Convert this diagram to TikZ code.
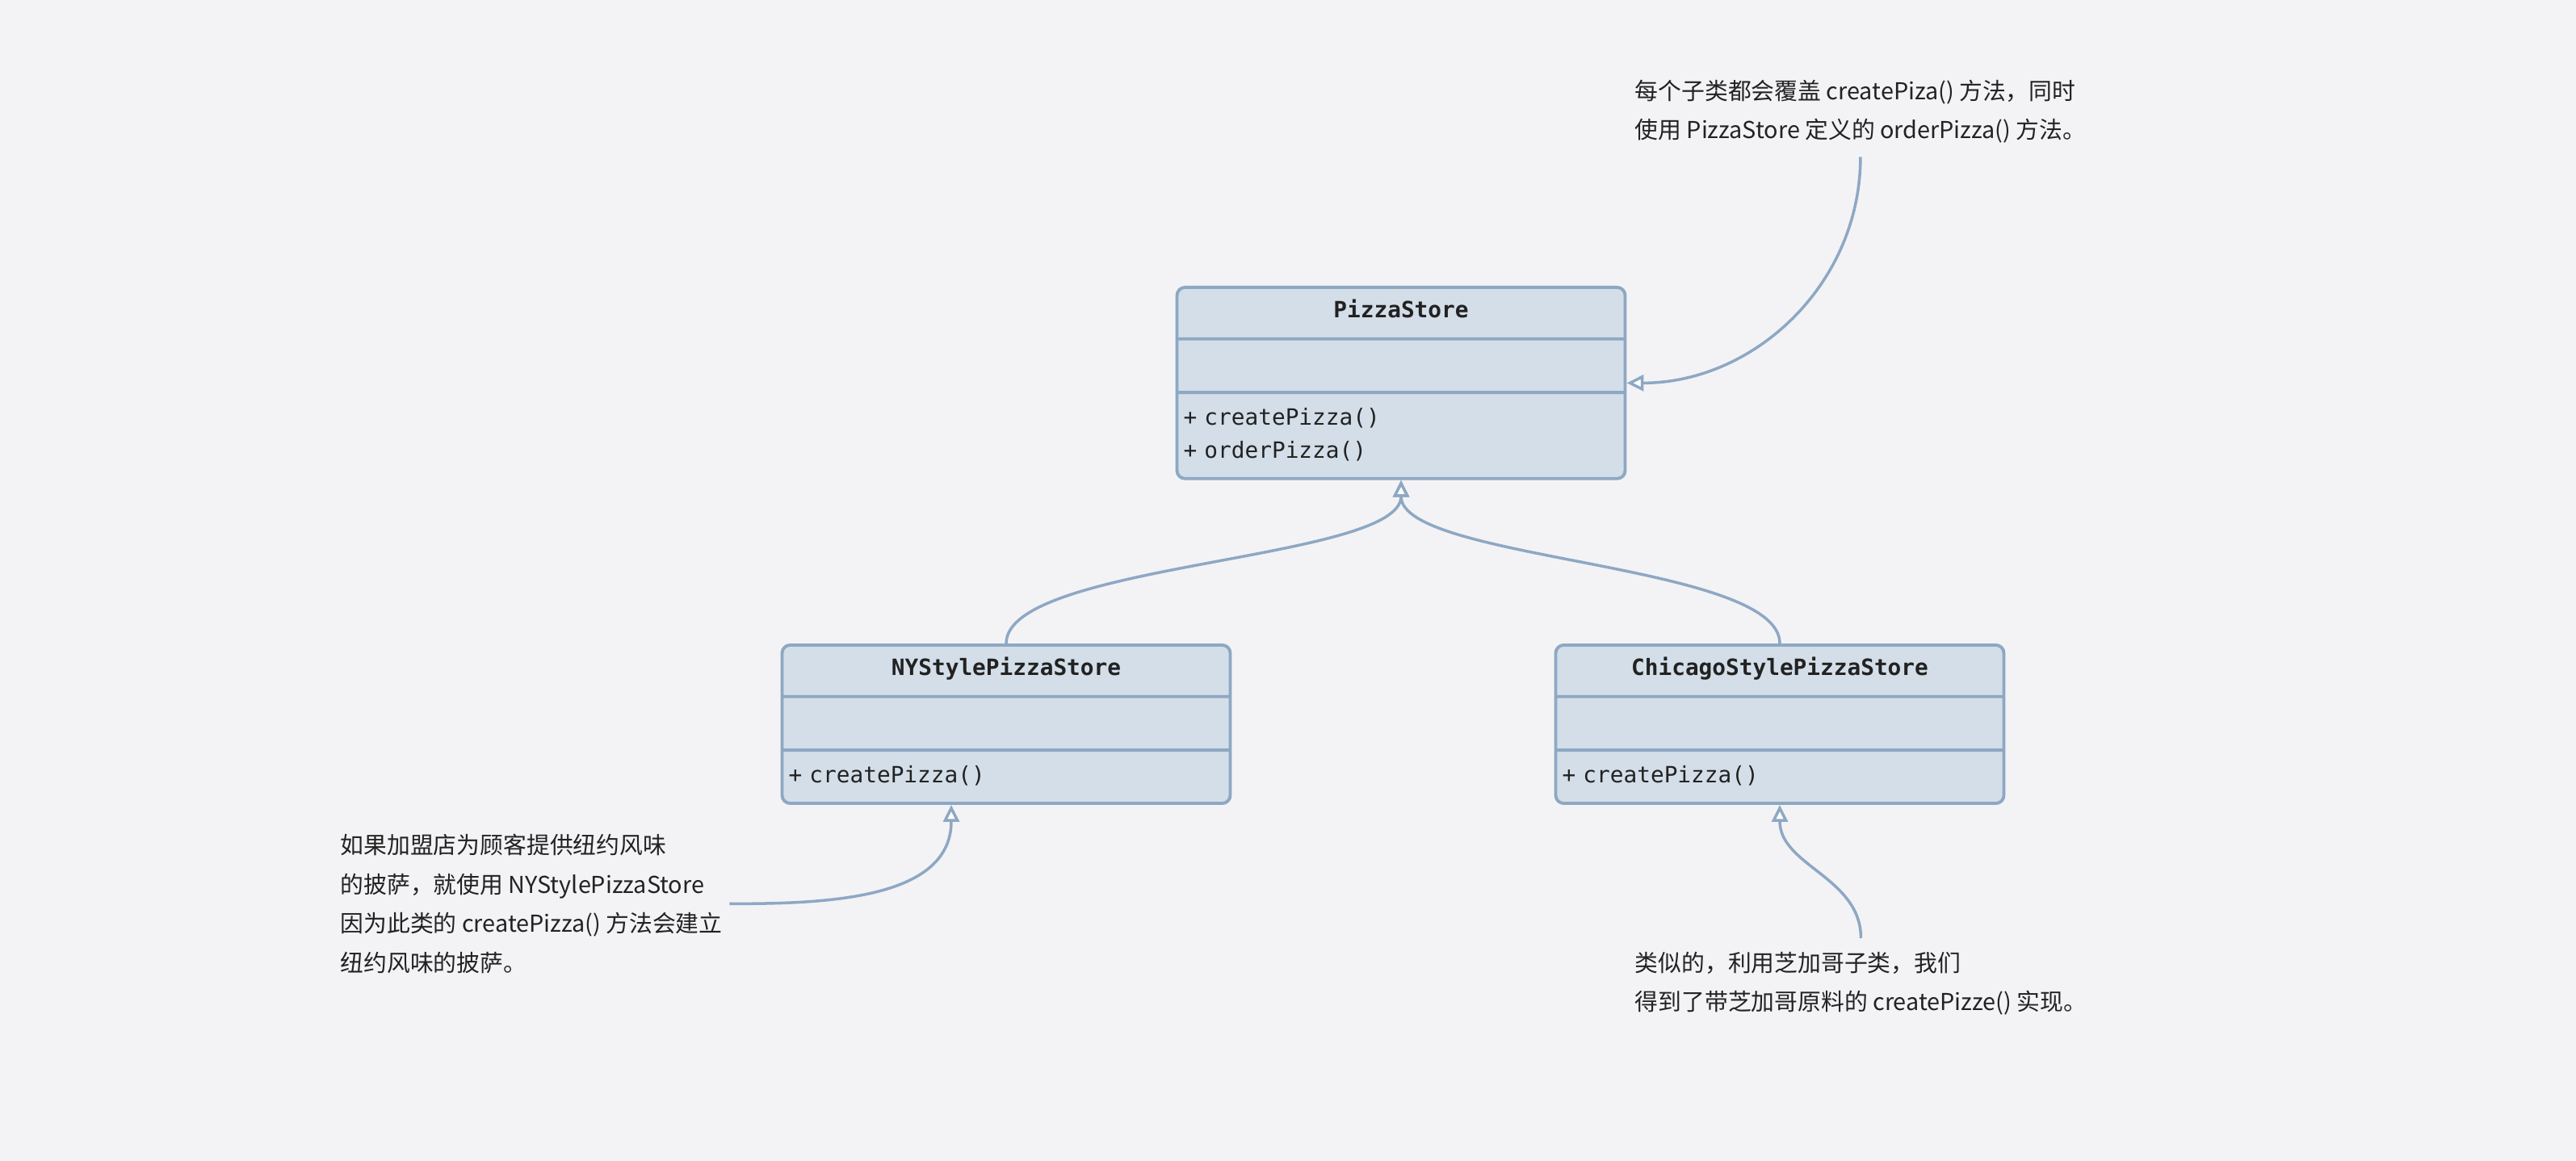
\documentclass[tikz,border=0pt]{standalone}
\usepackage{fontspec}
\setmonofont{DejaVu Sans Mono}
\newfontfamily\notefont{Noto Sans CJK SC}
\usepackage{tikz}
\usetikzlibrary{shapes.multipart, arrows.meta, positioning}

\definecolor{bgcolor}{HTML}{F3F3F6}
\definecolor{boxfill}{HTML}{D3DEE8}
\definecolor{boxline}{HTML}{8EA8C3}
\definecolor{inkcolor}{HTML}{222222}

\newcommand{\classtitle}[1]{\makebox[5.39cm][c]{\rule[-0.24cm]{0pt}{0.60cm}\textbf{#1}}}
\newcommand{\emptystrut}{\rule{0pt}{0.625cm}}
\newcommand{\firststrut}{\rule{0pt}{0.385cm}}
\newcommand{\laststrut}{\rule[-0.235cm]{0pt}{0.235cm}}

\begin{document}
\begin{tikzpicture}[
    umlclass/.style={rectangle split, rectangle split parts=3, draw=boxline, fill=boxfill, line width=1.1pt, rounded corners=0.1cm, text width=5.39cm, inner xsep=0.08cm, inner ysep=0pt, align=left, text=inkcolor, font=\ttfamily\fontsize{7.9}{11.6}\selectfont, anchor=north},
    note/.style={align=left, inner xsep=0.08cm, inner ysep=0.16cm, text=inkcolor, font=\notefont\fontsize{8.2}{13.9}\selectfont},
    inherit/.style={draw=boxline, line width=1pt, -{Triangle[length=0.21cm, width=0.2cm, fill=white]}}
]

\fill[bgcolor] (0,0) rectangle (31.9,-14.38);
\useasboundingbox (0,0) rectangle (31.9,-14.38);

% classes
\node (pizza) [umlclass] at (17.35,-3.54) {\classtitle{PizzaStore}
    \nodepart{two}\emptystrut
    \nodepart{three}\firststrut+ createPizza()\\+ orderPizza()\laststrut};
\node (ny) [umlclass] at (12.46,-7.97) {\classtitle{NYStylePizzaStore}
    \nodepart{two}\emptystrut
    \nodepart{three}\firststrut+ createPizza()\laststrut};
\node (chicago) [umlclass] at (22.04,-7.97) {\classtitle{ChicagoStylePizzaStore}
    \nodepart{two}\emptystrut
    \nodepart{three}\firststrut+ createPizza()\laststrut};

% notes
\node (note1) [note, anchor=north west] at (20.16,-0.82) {每个子类都会覆盖 createPiza() 方法，同时\\使用 PizzaStore 定义的 orderPizza() 方法。};
\node (note2) [note, anchor=north west] at (4.13,-10.16) {如果加盟店为顾客提供纽约风味\\的披萨，就使用 NYStylePizzaStore\\因为此类的 createPizza() 方法会建立\\纽约风味的披萨。};
\node (note3) [note, anchor=north west] at (20.16,-11.62) {类似的，利用芝加哥子类，我们\\得到了带芝加哥原料的 createPizze() 实现。};

% inheritance
\draw [inherit] (ny.north) .. controls +(0,1.0) and +(0,-1.0) .. (pizza.south);
\draw [inherit] (chicago.north) .. controls +(0,1.0) and +(0,-1.0) .. (pizza.south);

% note links
\draw [inherit] (note1.south) to[out=-90, in=0] (pizza.east);
\draw [inherit] (note2.east) to[out=0, in=-90] ([xshift=-0.68cm]ny.south);
\draw [inherit] (note3.north) to[out=90, in=-90] (chicago.south);

\end{tikzpicture}
\end{document}
